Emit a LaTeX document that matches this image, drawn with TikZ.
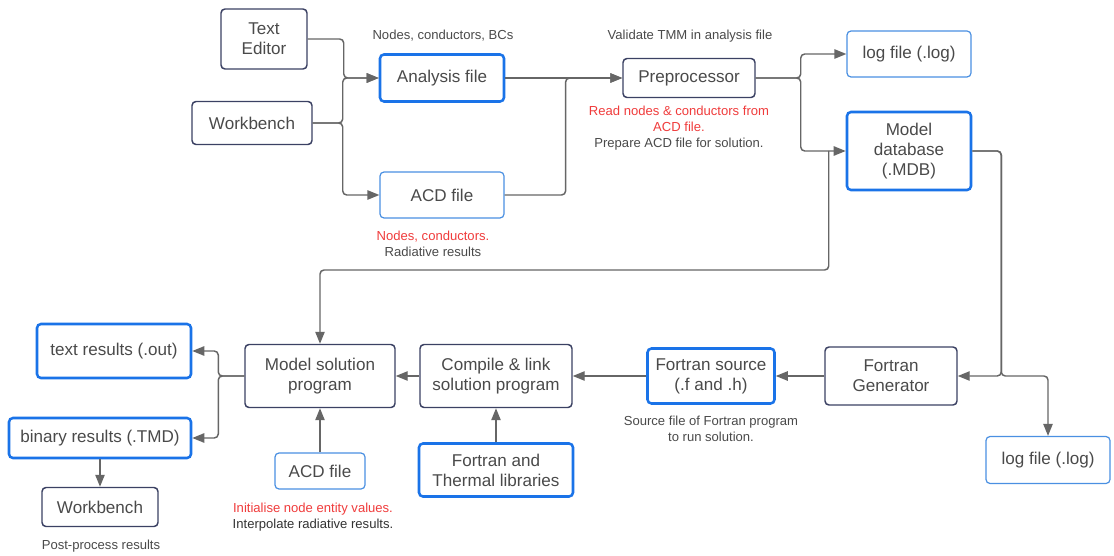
\documentclass[tikz,border=0pt]{standalone}
\usepackage{fontspec}
\setmainfont{Liberation Sans}
\usetikzlibrary{arrows.meta}

\definecolor{navy}{HTML}{3B4163}
\definecolor{bluethick}{HTML}{1A73E8}
\definecolor{bluethin}{HTML}{4A90E2}
\definecolor{wirecol}{HTML}{666666}
\definecolor{txt}{HTML}{4A4A4A}
\definecolor{note}{HTML}{F03C3C}

\tikzset{
  sz/.style 2 args={minimum width=#1*0.75pt, minimum height=#2*0.75pt},
  box/.style={rectangle, rounded corners=3pt, align=center, text=txt,
    font=\fontsize{12.8}{15}\selectfont, inner sep=0pt},
  proc/.style={box, draw=navy, line width=1.1pt},
  fileA/.style={box, draw=bluethick, line width=1.9pt},
  fileB/.style={box, draw=bluethin, line width=0.9pt},
  lbl/.style={align=center, text=txt, font=\fontsize{9.8}{11.8}\selectfont, inner sep=0pt},
  wire/.style={draw=wirecol, line width=1.1pt, rounded corners=3pt,
    -{Triangle[length=9pt,width=7pt]}},
}

\begin{document}
\begin{tikzpicture}[x=0.75pt, y=-0.75pt]
\useasboundingbox[fill=white] (0,0) rectangle (1114,556);

% pre-processing stage
\node[proc, sz={86}{60}]   (te)   at (264,39)  {Text\\Editor};
\node[proc, sz={120}{43}]  (wb)   at (252,123) {Workbench};
\node[fileA, sz={124}{47}] (af)   at (442,78)  {Analysis file};
\node[fileB, sz={124}{46}] (acd)  at (442,195) {ACD file};
\node[proc, sz={132}{39}]  (pp)   at (689,78)  {Preprocessor};
\node[fileB, sz={124}{46}] (log1) at (909,54)  {log file (.log)};
\node[fileA, sz={124}{78}] (mdb)  at (909,151) {Model\\database\\(.MDB)};

% code generation and solution stage
\node[proc, sz={132}{58}]  (fg)   at (891,376) {Fortran\\Generator};
\node[fileB, sz={124}{47}] (log2) at (1048,460) {log file (.log)};
\node[fileA, sz={127}{55}] (fs)   at (711,376) {Fortran source\\(.f and .h)};
\node[proc, sz={152}{63}]  (cl)   at (496,376) {Compile \& link\\solution program};
\node[fileA, sz={154}{53}] (lib)  at (496,470) {Fortran and\\Thermal libraries};
\node[proc, sz={150}{63}]  (msp)  at (320,376) {Model solution\\program};
\node[fileB, sz={90}{36}]  (acd2) at (320,471) {ACD file};
\node[fileA, sz={154}{54}] (tr)   at (114,351) {text results (.out)};
\node[fileA, sz={182}{40}] (br)   at (100,438) {binary results (.TMD)};
\node[proc, sz={116}{39}]  (wb2)  at (100,507) {Workbench};

% annotations
\node[lbl] (n1) at (443,36) {Nodes, conductors, BCs};
\node[lbl] (n2) at (690,36) {Validate TMM in analysis file};
\node[lbl] (n3) at (679,128) {\textcolor{note}{Read nodes \& conductors from}\\\textcolor{note}{ACD file.}\\Prepare ACD file for solution.};
\node[lbl] (n4) at (433,244) {\textcolor{note}{Nodes, conductors.}\\Radiative results};
\node[lbl] (n5) at (711,429) {Source file of Fortran program\\to run solution.};
\node[lbl, text=black!80] (n6) at (313,517) {\textcolor{note}{Initialise node entity values.}\\Interpolate radiative results.};
\node[lbl] (n7) at (101,546) {Post-process results};

% connectors
\draw[wire] (te.east) -- ++(36,0) |- (af.west);
\draw[wire] (wb.east) -- ++(30,0) |- (af.west);
\draw[wire] (wb.east) -- ++(30,0) |- (acd.west);
\draw[wire] (af.east) -- (pp.west);
\draw[wire] (acd.east) -- ++(61,0) |- (pp.west);
\draw[wire] (pp.east) -- ++(45,0) |- (log1.west);
\draw[wire] (pp.east) -- ++(45,0) |- (mdb.west);
\draw[wire] (mdb.east) -- ++(29,0) |- (fg.east);
\draw[wire] (mdb.east) -- ++(29,0) -- ++(0,225) -| (log2.north);
\draw[wire] (mdb.west) ++(-17,0) -- ++(0,119) -| (msp.north);
\draw[wire] (fg.west) -- (fs.east);
\draw[wire] (fs.west) -- (cl.east);
\draw[wire] (cl.west) -- (msp.east);
\draw[wire] (lib.north) -- (cl.south);
\draw[wire] (acd2.north) -- (msp.south);
\draw[wire] (msp.west) -- ++(-26,0) |- (tr.east);
\draw[wire] (msp.west) -- ++(-26,0) |- (br.east);
\draw[wire] (br.south) -- (wb2.north);
\end{tikzpicture}
\end{document}
